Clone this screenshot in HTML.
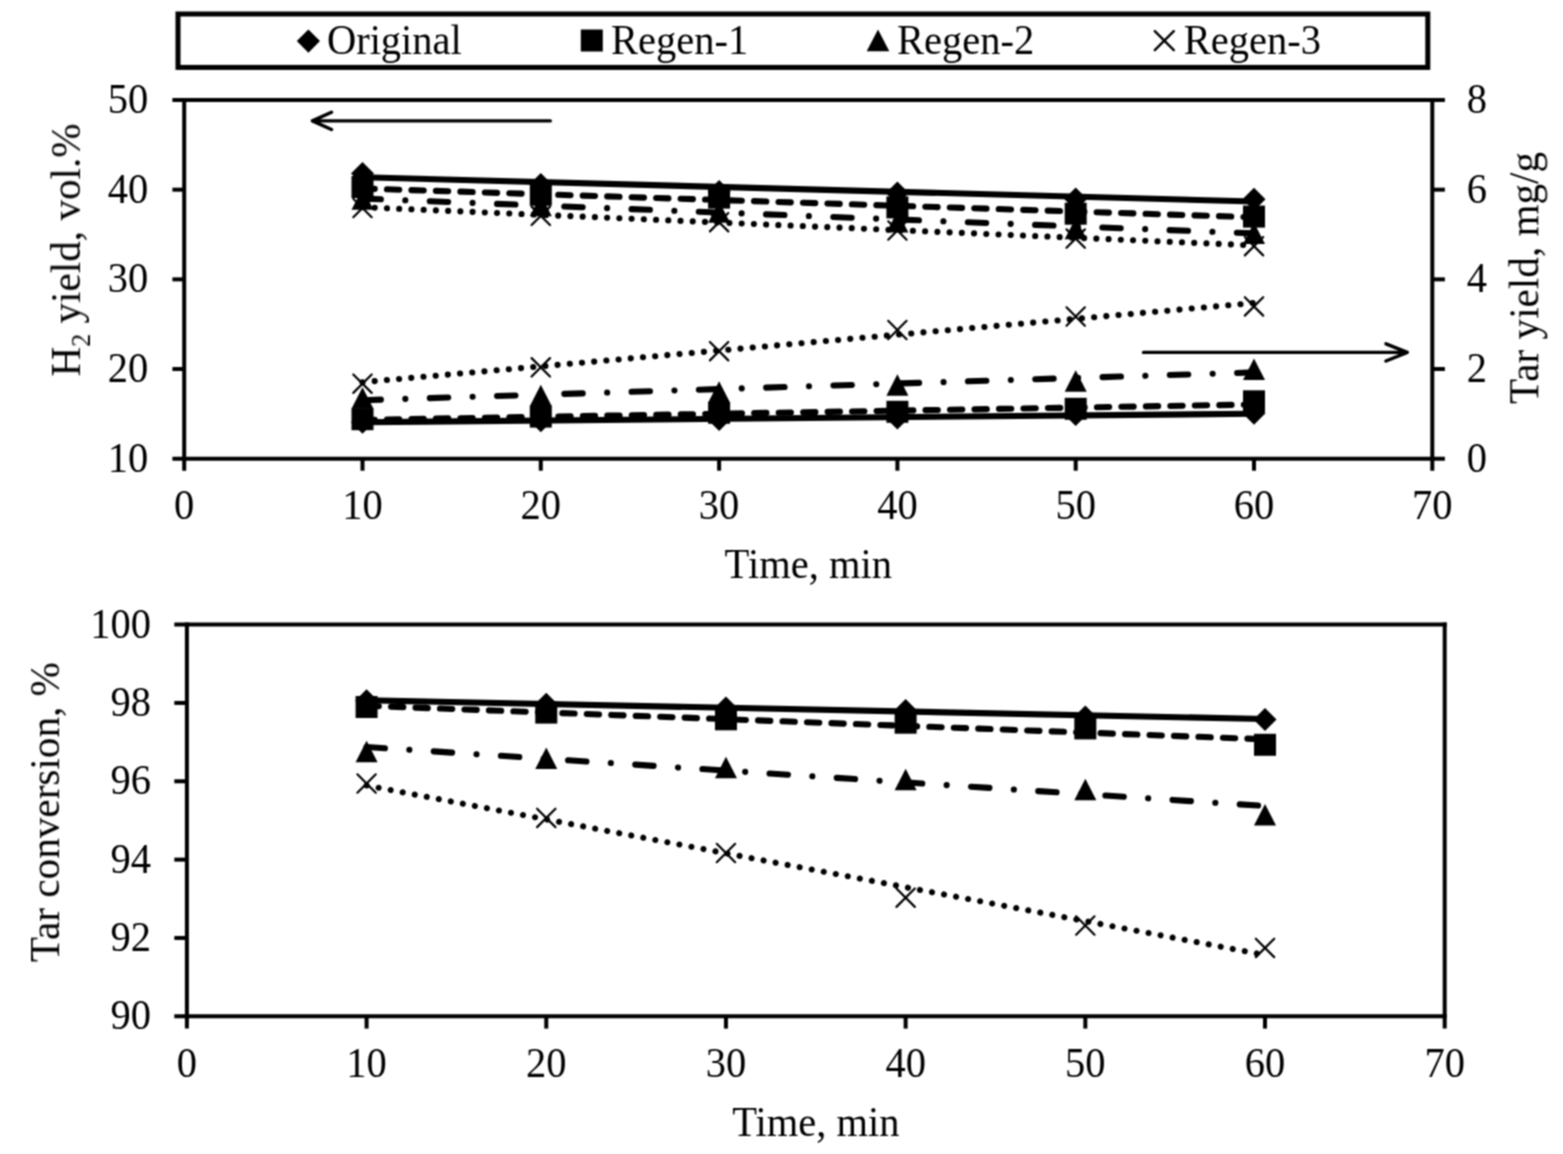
<!DOCTYPE html>
<html><head><meta charset="utf-8"><title>Chart</title>
<style>
html,body{margin:0;padding:0;background:#fff;}
svg{display:block;}
text{font-family:"Liberation Serif","Times New Roman",serif;fill:#000;}
</style></head><body>
<svg width="1563" height="1154" viewBox="0 0 1563 1154">
<rect x="0" y="0" width="1563" height="1154" fill="#fff"/>
<defs><filter id="soft" x="0" y="0" width="1563" height="1154" filterUnits="userSpaceOnUse" color-interpolation-filters="sRGB"><feConvolveMatrix order="3" kernelMatrix="1 2 1 2 4 2 1 2 1" divisor="16" edgeMode="duplicate" preserveAlpha="false"/></filter></defs>
<g filter="url(#soft)">
<rect x="178" y="14.0" width="1249.8" height="53.4" fill="none" stroke="#000" stroke-width="5"/>
<polygon points="308.40,29.50 320.00,41.10 308.40,52.70 296.80,41.10" fill="#000"/>
<text transform="translate(326.90,53.70) scale(1,1.05)" font-size="40.5" text-anchor="start" >Original</text>
<rect x="580.80" y="29.50" width="22.00" height="22.00" fill="#000"/>
<text transform="translate(611.00,53.70) scale(1,1.05)" font-size="40.5" text-anchor="start" >Regen-1</text>
<polygon points="878.00,29.60 889.30,51.20 866.70,51.20" fill="#000"/>
<text transform="translate(897.00,53.70) scale(1,1.05)" font-size="40.5" text-anchor="start" >Regen-2</text>
<path d="M1154.80 31.20L1173.80 50.20M1173.80 31.20L1154.80 50.20" stroke="#000" stroke-width="2.4" fill="none" stroke-linecap="round"/>
<text transform="translate(1183.80,53.70) scale(1,1.05)" font-size="40.5" text-anchor="start" >Regen-3</text>
<line x1="172.40" y1="100.00" x2="1444.90" y2="100.00" stroke="#000" stroke-width="4" />
<line x1="172.40" y1="458.70" x2="1444.90" y2="458.70" stroke="#000" stroke-width="4" />
<line x1="184.20" y1="98.00" x2="184.20" y2="470.70" stroke="#000" stroke-width="4" />
<line x1="1432.30" y1="98.00" x2="1432.30" y2="470.70" stroke="#000" stroke-width="4" />
<line x1="172.40" y1="369.02" x2="184.20" y2="369.02" stroke="#000" stroke-width="4" />
<line x1="172.40" y1="279.35" x2="184.20" y2="279.35" stroke="#000" stroke-width="4" />
<line x1="172.40" y1="189.68" x2="184.20" y2="189.68" stroke="#000" stroke-width="4" />
<line x1="1432.30" y1="369.02" x2="1444.90" y2="369.02" stroke="#000" stroke-width="4" />
<line x1="1432.30" y1="279.35" x2="1444.90" y2="279.35" stroke="#000" stroke-width="4" />
<line x1="1432.30" y1="189.68" x2="1444.90" y2="189.68" stroke="#000" stroke-width="4" />
<line x1="362.50" y1="458.70" x2="362.50" y2="470.70" stroke="#000" stroke-width="4" />
<line x1="540.80" y1="458.70" x2="540.80" y2="470.70" stroke="#000" stroke-width="4" />
<line x1="719.10" y1="458.70" x2="719.10" y2="470.70" stroke="#000" stroke-width="4" />
<line x1="897.40" y1="458.70" x2="897.40" y2="470.70" stroke="#000" stroke-width="4" />
<line x1="1075.70" y1="458.70" x2="1075.70" y2="470.70" stroke="#000" stroke-width="4" />
<line x1="1254.00" y1="458.70" x2="1254.00" y2="470.70" stroke="#000" stroke-width="4" />
<text transform="translate(148.20,471.60) scale(1,1.05)" font-size="40.5" text-anchor="end" >10</text>
<text transform="translate(148.20,381.92) scale(1,1.05)" font-size="40.5" text-anchor="end" >20</text>
<text transform="translate(148.20,292.25) scale(1,1.05)" font-size="40.5" text-anchor="end" >30</text>
<text transform="translate(148.20,202.58) scale(1,1.05)" font-size="40.5" text-anchor="end" >40</text>
<text transform="translate(148.20,112.90) scale(1,1.05)" font-size="40.5" text-anchor="end" >50</text>
<text transform="translate(1466.80,471.60) scale(1,1.05)" font-size="40.5" text-anchor="start" >0</text>
<text transform="translate(1466.80,381.92) scale(1,1.05)" font-size="40.5" text-anchor="start" >2</text>
<text transform="translate(1466.80,292.25) scale(1,1.05)" font-size="40.5" text-anchor="start" >4</text>
<text transform="translate(1466.80,202.58) scale(1,1.05)" font-size="40.5" text-anchor="start" >6</text>
<text transform="translate(1466.80,112.90) scale(1,1.05)" font-size="40.5" text-anchor="start" >8</text>
<text transform="translate(184.20,519.40) scale(1,1.05)" font-size="40.5" text-anchor="middle" >0</text>
<text transform="translate(362.50,519.40) scale(1,1.05)" font-size="40.5" text-anchor="middle" >10</text>
<text transform="translate(540.80,519.40) scale(1,1.05)" font-size="40.5" text-anchor="middle" >20</text>
<text transform="translate(719.10,519.40) scale(1,1.05)" font-size="40.5" text-anchor="middle" >30</text>
<text transform="translate(897.40,519.40) scale(1,1.05)" font-size="40.5" text-anchor="middle" >40</text>
<text transform="translate(1075.70,519.40) scale(1,1.05)" font-size="40.5" text-anchor="middle" >50</text>
<text transform="translate(1254.00,519.40) scale(1,1.05)" font-size="40.5" text-anchor="middle" >60</text>
<text transform="translate(1432.30,519.40) scale(1,1.05)" font-size="40.5" text-anchor="middle" >70</text>
<text transform="translate(808.25,578.40) scale(1,1.05)" font-size="40.5" text-anchor="middle" >Time, min</text>
<text transform="translate(80,376.5) rotate(-90) scale(1.017,1.055)" font-size="40.5">H<tspan font-size="25.5" dy="9">2</tspan><tspan dy="-9"> yield, vol.%</tspan></text>
<text transform="translate(1538.3,404) rotate(-90) scale(1.017,1.055)" font-size="40.5">Tar yield, mg/g</text>
<line x1="362.50" y1="177.20" x2="1254.00" y2="201.50" stroke="#000" stroke-width="6.1" />
<line x1="362.50" y1="188.50" x2="1254.00" y2="217.30" stroke="#000" stroke-width="6.1" stroke-dasharray="12.263 12.221" stroke-linecap="round"/>
<line x1="362.50" y1="198.60" x2="1254.00" y2="233.40" stroke="#000" stroke-width="6.1" stroke-dasharray="18.384 24.463 0.01 24.453" stroke-linecap="round"/>
<line x1="362.50" y1="207.20" x2="1254.00" y2="245.40" stroke="#000" stroke-width="6.1" stroke-dasharray="0.01 12.232" stroke-linecap="round"/>
<line x1="362.50" y1="422.20" x2="1254.00" y2="413.80" stroke="#000" stroke-width="6.1" />
<line x1="362.50" y1="419.90" x2="1254.00" y2="404.50" stroke="#000" stroke-width="6.1" stroke-dasharray="12.263 12.221" stroke-linecap="round"/>
<line x1="362.50" y1="400.20" x2="1254.00" y2="372.40" stroke="#000" stroke-width="6.1" stroke-dasharray="18.384 24.463 0.01 24.453" stroke-linecap="round"/>
<line x1="362.50" y1="382.20" x2="1254.00" y2="303.00" stroke="#000" stroke-width="6.1" stroke-dasharray="0.01 12.232" stroke-linecap="round"/>
<polygon points="362.50,162.00 374.00,173.50 362.50,185.00 351.00,173.50" fill="#000"/>
<polygon points="540.80,173.10 552.30,184.60 540.80,196.10 529.30,184.60" fill="#000"/>
<polygon points="719.10,180.00 730.60,191.50 719.10,203.00 707.60,191.50" fill="#000"/>
<polygon points="897.40,181.40 908.90,192.90 897.40,204.40 885.90,192.90" fill="#000"/>
<polygon points="1075.70,187.50 1087.20,199.00 1075.70,210.50 1064.20,199.00" fill="#000"/>
<polygon points="1254.00,187.70 1265.50,199.20 1254.00,210.70 1242.50,199.20" fill="#000"/>
<rect x="351.50" y="176.00" width="22.00" height="22.00" fill="#000"/>
<rect x="529.80" y="183.80" width="22.00" height="22.00" fill="#000"/>
<rect x="708.10" y="186.60" width="22.00" height="22.00" fill="#000"/>
<rect x="886.40" y="196.40" width="22.00" height="22.00" fill="#000"/>
<rect x="1064.70" y="202.70" width="22.00" height="22.00" fill="#000"/>
<rect x="1243.00" y="205.60" width="22.00" height="22.00" fill="#000"/>
<polygon points="362.50,188.25 373.50,209.75 351.50,209.75" fill="#000"/>
<polygon points="540.80,194.65 551.80,216.15 529.80,216.15" fill="#000"/>
<polygon points="719.10,201.25 730.10,222.75 708.10,222.75" fill="#000"/>
<polygon points="897.40,211.05 908.40,232.55 886.40,232.55" fill="#000"/>
<polygon points="1075.70,217.85 1086.70,239.35 1064.70,239.35" fill="#000"/>
<polygon points="1254.00,222.55 1265.00,244.05 1243.00,244.05" fill="#000"/>
<path d="M353.30 198.80L371.70 217.20M371.70 198.80L353.30 217.20" stroke="#000" stroke-width="2.2" fill="none" stroke-linecap="round"/>
<path d="M531.60 206.60L550.00 225.00M550.00 206.60L531.60 225.00" stroke="#000" stroke-width="2.2" fill="none" stroke-linecap="round"/>
<path d="M709.90 213.00L728.30 231.40M728.30 213.00L709.90 231.40" stroke="#000" stroke-width="2.2" fill="none" stroke-linecap="round"/>
<path d="M888.20 221.30L906.60 239.70M906.60 221.30L888.20 239.70" stroke="#000" stroke-width="2.2" fill="none" stroke-linecap="round"/>
<path d="M1066.50 229.40L1084.90 247.80M1084.90 229.40L1066.50 247.80" stroke="#000" stroke-width="2.2" fill="none" stroke-linecap="round"/>
<path d="M1244.80 237.00L1263.20 255.40M1263.20 237.00L1244.80 255.40" stroke="#000" stroke-width="2.2" fill="none" stroke-linecap="round"/>
<polygon points="362.50,410.70 374.00,422.20 362.50,433.70 351.00,422.20" fill="#000"/>
<polygon points="540.80,409.20 552.30,420.70 540.80,432.20 529.30,420.70" fill="#000"/>
<polygon points="719.10,408.00 730.60,419.50 719.10,431.00 707.60,419.50" fill="#000"/>
<polygon points="897.40,406.50 908.90,418.00 897.40,429.50 885.90,418.00" fill="#000"/>
<polygon points="1075.70,403.10 1087.20,414.60 1075.70,426.10 1064.20,414.60" fill="#000"/>
<polygon points="1254.00,401.80 1265.50,413.30 1254.00,424.80 1242.50,413.30" fill="#000"/>
<rect x="351.50" y="408.20" width="22.00" height="22.00" fill="#000"/>
<rect x="529.80" y="405.60" width="22.00" height="22.00" fill="#000"/>
<rect x="708.10" y="401.80" width="22.00" height="22.00" fill="#000"/>
<rect x="886.40" y="400.80" width="22.00" height="22.00" fill="#000"/>
<rect x="1064.70" y="397.80" width="22.00" height="22.00" fill="#000"/>
<rect x="1243.00" y="390.30" width="22.00" height="22.00" fill="#000"/>
<polygon points="362.50,387.25 373.50,408.75 351.50,408.75" fill="#000"/>
<polygon points="540.80,384.85 551.80,406.35 529.80,406.35" fill="#000"/>
<polygon points="719.10,381.15 730.10,402.65 708.10,402.65" fill="#000"/>
<polygon points="897.40,374.25 908.40,395.75 886.40,395.75" fill="#000"/>
<polygon points="1075.70,370.15 1086.70,391.65 1064.70,391.65" fill="#000"/>
<polygon points="1254.00,358.55 1265.00,380.05 1243.00,380.05" fill="#000"/>
<path d="M353.30 374.50L371.70 392.90M371.70 374.50L353.30 392.90" stroke="#000" stroke-width="2.2" fill="none" stroke-linecap="round"/>
<path d="M531.60 358.10L550.00 376.50M550.00 358.10L531.60 376.50" stroke="#000" stroke-width="2.2" fill="none" stroke-linecap="round"/>
<path d="M709.90 342.00L728.30 360.40M728.30 342.00L709.90 360.40" stroke="#000" stroke-width="2.2" fill="none" stroke-linecap="round"/>
<path d="M888.20 320.80L906.60 339.20M906.60 320.80L888.20 339.20" stroke="#000" stroke-width="2.2" fill="none" stroke-linecap="round"/>
<path d="M1066.50 307.30L1084.90 325.70M1084.90 307.30L1066.50 325.70" stroke="#000" stroke-width="2.2" fill="none" stroke-linecap="round"/>
<path d="M1244.80 297.20L1263.20 315.60M1263.20 297.20L1244.80 315.60" stroke="#000" stroke-width="2.2" fill="none" stroke-linecap="round"/>
<path d="M550.3 120.9H313M331.5 112.3L312.4 120.9L331.5 129.5" stroke="#000" stroke-width="3.4" fill="none" stroke-linecap="round" stroke-linejoin="round"/>
<path d="M1143.5 352.4H1406.5M1386 343.8L1407.3 352.4L1386 361" stroke="#000" stroke-width="3.4" fill="none" stroke-linecap="round" stroke-linejoin="round"/>
<line x1="174.30" y1="624.60" x2="1446.70" y2="624.60" stroke="#000" stroke-width="4" />
<line x1="174.30" y1="1016.30" x2="1446.70" y2="1016.30" stroke="#000" stroke-width="4" />
<line x1="186.90" y1="622.60" x2="186.90" y2="1028.60" stroke="#000" stroke-width="4" />
<line x1="1444.70" y1="622.60" x2="1444.70" y2="1028.60" stroke="#000" stroke-width="4" />
<line x1="174.30" y1="937.96" x2="186.90" y2="937.96" stroke="#000" stroke-width="4" />
<line x1="174.30" y1="859.62" x2="186.90" y2="859.62" stroke="#000" stroke-width="4" />
<line x1="174.30" y1="781.28" x2="186.90" y2="781.28" stroke="#000" stroke-width="4" />
<line x1="174.30" y1="702.94" x2="186.90" y2="702.94" stroke="#000" stroke-width="4" />
<line x1="366.59" y1="1016.30" x2="366.59" y2="1028.60" stroke="#000" stroke-width="4" />
<line x1="546.27" y1="1016.30" x2="546.27" y2="1028.60" stroke="#000" stroke-width="4" />
<line x1="725.96" y1="1016.30" x2="725.96" y2="1028.60" stroke="#000" stroke-width="4" />
<line x1="905.64" y1="1016.30" x2="905.64" y2="1028.60" stroke="#000" stroke-width="4" />
<line x1="1085.33" y1="1016.30" x2="1085.33" y2="1028.60" stroke="#000" stroke-width="4" />
<line x1="1265.01" y1="1016.30" x2="1265.01" y2="1028.60" stroke="#000" stroke-width="4" />
<text transform="translate(150.90,1029.30) scale(1,1.05)" font-size="40.5" text-anchor="end" >90</text>
<text transform="translate(150.90,950.96) scale(1,1.05)" font-size="40.5" text-anchor="end" >92</text>
<text transform="translate(150.90,872.62) scale(1,1.05)" font-size="40.5" text-anchor="end" >94</text>
<text transform="translate(150.90,794.28) scale(1,1.05)" font-size="40.5" text-anchor="end" >96</text>
<text transform="translate(150.90,715.94) scale(1,1.05)" font-size="40.5" text-anchor="end" >98</text>
<text transform="translate(150.90,637.60) scale(1,1.05)" font-size="40.5" text-anchor="end" >100</text>
<text transform="translate(186.90,1077.40) scale(1,1.05)" font-size="40.5" text-anchor="middle" >0</text>
<text transform="translate(366.59,1077.40) scale(1,1.05)" font-size="40.5" text-anchor="middle" >10</text>
<text transform="translate(546.27,1077.40) scale(1,1.05)" font-size="40.5" text-anchor="middle" >20</text>
<text transform="translate(725.96,1077.40) scale(1,1.05)" font-size="40.5" text-anchor="middle" >30</text>
<text transform="translate(905.64,1077.40) scale(1,1.05)" font-size="40.5" text-anchor="middle" >40</text>
<text transform="translate(1085.33,1077.40) scale(1,1.05)" font-size="40.5" text-anchor="middle" >50</text>
<text transform="translate(1265.01,1077.40) scale(1,1.05)" font-size="40.5" text-anchor="middle" >60</text>
<text transform="translate(1444.70,1077.40) scale(1,1.05)" font-size="40.5" text-anchor="middle" >70</text>
<text transform="translate(815.80,1136.30) scale(1,1.05)" font-size="40.5" text-anchor="middle" >Time, min</text>
<text transform="translate(59.1,962.2) rotate(-90) scale(1.017,1.055)" font-size="40.5">Tar conversion, %</text>
<line x1="366.59" y1="700.30" x2="1265.01" y2="719.00" stroke="#000" stroke-width="6.1" />
<line x1="366.59" y1="705.80" x2="1265.01" y2="739.30" stroke="#000" stroke-width="6.1" stroke-dasharray="12.263 12.221" stroke-linecap="round"/>
<line x1="366.59" y1="747.00" x2="1265.01" y2="806.00" stroke="#000" stroke-width="6.1" stroke-dasharray="18.384 24.463 0.01 24.453" stroke-linecap="round"/>
<line x1="366.59" y1="785.50" x2="1265.01" y2="955.00" stroke="#000" stroke-width="6.1" stroke-dasharray="0.01 12.232" stroke-linecap="round"/>
<polygon points="366.59,689.20 378.09,700.70 366.59,712.20 355.09,700.70" fill="#000"/>
<polygon points="546.27,692.70 557.77,704.20 546.27,715.70 534.77,704.20" fill="#000"/>
<polygon points="725.96,696.50 737.46,708.00 725.96,719.50 714.46,708.00" fill="#000"/>
<polygon points="905.64,699.10 917.14,710.60 905.64,722.10 894.14,710.60" fill="#000"/>
<polygon points="1085.33,705.50 1096.83,717.00 1085.33,728.50 1073.83,717.00" fill="#000"/>
<polygon points="1265.01,707.90 1276.51,719.40 1265.01,730.90 1253.51,719.40" fill="#000"/>
<rect x="355.59" y="696.00" width="22.00" height="22.00" fill="#000"/>
<rect x="535.27" y="701.60" width="22.00" height="22.00" fill="#000"/>
<rect x="714.96" y="708.30" width="22.00" height="22.00" fill="#000"/>
<rect x="894.64" y="711.70" width="22.00" height="22.00" fill="#000"/>
<rect x="1074.33" y="717.40" width="22.00" height="22.00" fill="#000"/>
<rect x="1254.01" y="733.80" width="22.00" height="22.00" fill="#000"/>
<polygon points="366.59,740.65 377.59,762.15 355.59,762.15" fill="#000"/>
<polygon points="546.27,747.45 557.27,768.95 535.27,768.95" fill="#000"/>
<polygon points="725.96,756.65 736.96,778.15 714.96,778.15" fill="#000"/>
<polygon points="905.64,768.65 916.64,790.15 894.64,790.15" fill="#000"/>
<polygon points="1085.33,778.75 1096.33,800.25 1074.33,800.25" fill="#000"/>
<polygon points="1265.01,803.95 1276.01,825.45 1254.01,825.45" fill="#000"/>
<path d="M357.39 774.30L375.79 792.70M375.79 774.30L357.39 792.70" stroke="#000" stroke-width="2.2" fill="none" stroke-linecap="round"/>
<path d="M537.07 808.70L555.47 827.10M555.47 808.70L537.07 827.10" stroke="#000" stroke-width="2.2" fill="none" stroke-linecap="round"/>
<path d="M716.76 843.80L735.16 862.20M735.16 843.80L716.76 862.20" stroke="#000" stroke-width="2.2" fill="none" stroke-linecap="round"/>
<path d="M896.44 888.50L914.84 906.90M914.84 888.50L896.44 906.90" stroke="#000" stroke-width="2.2" fill="none" stroke-linecap="round"/>
<path d="M1076.13 916.30L1094.53 934.70M1094.53 916.30L1076.13 934.70" stroke="#000" stroke-width="2.2" fill="none" stroke-linecap="round"/>
<path d="M1255.81 938.70L1274.21 957.10M1274.21 938.70L1255.81 957.10" stroke="#000" stroke-width="2.2" fill="none" stroke-linecap="round"/>
</g>
</svg>
</body></html>
